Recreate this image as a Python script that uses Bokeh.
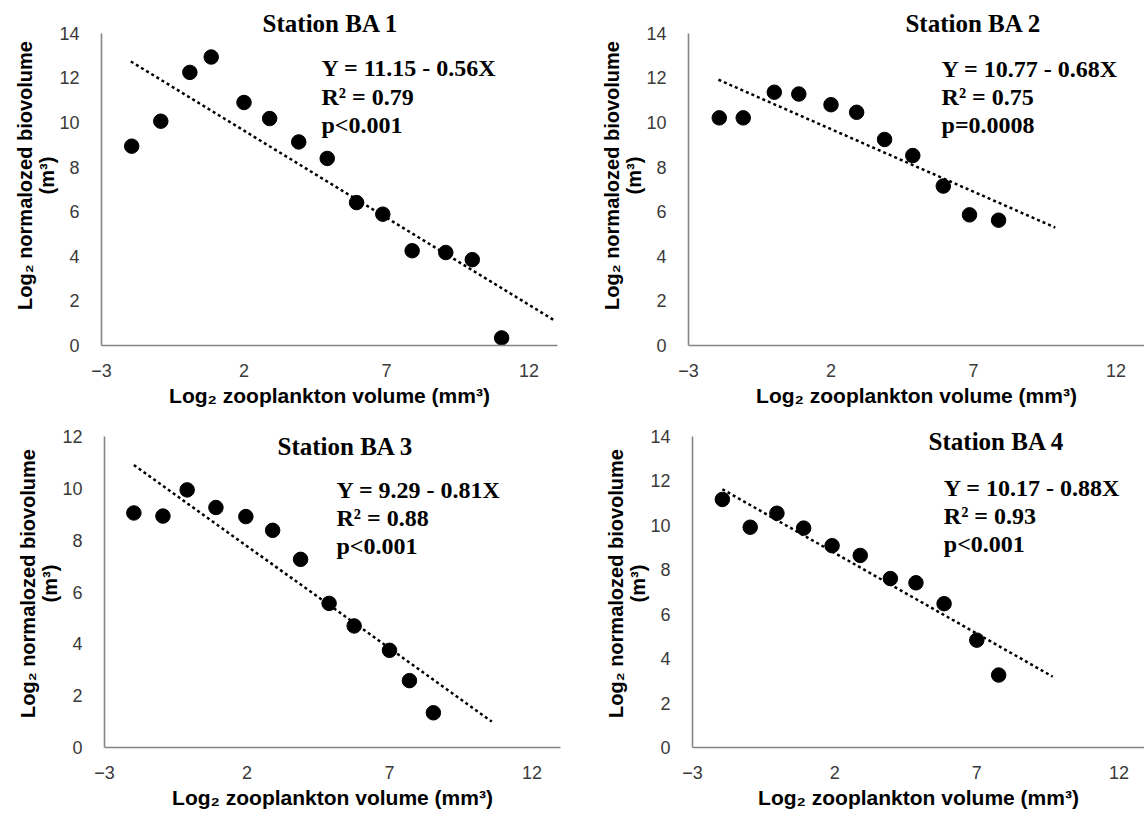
from bokeh.plotting import figure
from bokeh.layouts import column, row
from bokeh.models import Range1d, FixedTicker, Label
from bokeh.embed import file_html
from bokeh.resources import INLINE

# ---------------- data ----------------
x_ticks = [-3, 2, 7, 12]

ba1_x = [-1.94, -0.92, 0.1, 0.85, 2.0, 2.9, 3.92, 4.92, 5.95, 6.87, 7.9, 9.08, 10.01, 11.04]
ba1_y = [8.94, 10.06, 12.25, 12.94, 10.9, 10.18, 9.13, 8.39, 6.41, 5.89, 4.25, 4.17, 3.85, 0.34]
ba1_trend_x = [-1.97, 12.9]
ba1_trend_y = [12.74, 1.12]

ba2_x = [-1.92, -1.08, 0.01, 0.87, 2.0, 2.9, 3.88, 4.87, 5.94, 6.86, 7.88]
ba2_y = [10.21, 10.21, 11.36, 11.28, 10.8, 10.46, 9.24, 8.52, 7.15, 5.86, 5.62]
ba2_trend_x = [-1.95, 9.87]
ba2_trend_y = [11.92, 5.29]

ba3_x = [-1.97, -0.95, -0.1, 0.91, 1.96, 2.9, 3.88, 4.88, 5.76, 7.0, 7.7, 8.54]
ba3_y = [9.05, 8.93, 9.94, 9.26, 8.91, 8.38, 7.26, 5.56, 4.69, 3.75, 2.58, 1.34]
ba3_trend_x = [-1.97, 10.59]
ba3_trend_y = [10.9, 1.0]

ba4_x = [-1.95, -0.97, -0.03, 0.91, 1.91, 2.9, 3.96, 4.86, 5.85, 7.0, 7.77]
ba4_y = [11.16, 9.91, 10.54, 9.87, 9.08, 8.64, 7.6, 7.41, 6.47, 4.83, 3.26]
ba4_trend_x = [-1.95, 9.67]
ba4_trend_y = [11.62, 3.19]

titles = ["Station BA 1", "Station BA 2", "Station BA 3", "Station BA 4"]
equations = [
    ["Y = 11.15 - 0.56X", "R\u00b2 = 0.79", "p<0.001"],
    ["Y = 10.77 - 0.68X", "R\u00b2 = 0.75", "p=0.0008"],
    ["Y = 9.29 - 0.81X", "R\u00b2 = 0.88", "p<0.001"],
    ["Y = 10.17 - 0.88X", "R\u00b2 = 0.93", "p<0.001"],
]
y_maxes = [14, 14, 12, 14]

x_title = "Log\u2082 zooplankton volume (mm\u00b3)"
y_title = "Log\u2082 normalozed biovolume\n(m\u00b3)"

SANS = "Liberation Sans"
SERIF = "Liberation Serif"
TICK_COLOR = "#3a3a3a"
AXIS_COLOR = "#858585"


def make_panel(xs, ys, tx, ty, title, eq, ymax, x_end, y_end, borders, title_pos, eq_pos):
    left, right, top, bottom = borders
    p = figure(width=572, height=409, output_backend="svg", toolbar_location=None,
               x_range=Range1d(-3, x_end), y_range=Range1d(0, y_end),
               min_border_left=left, min_border_right=right,
               min_border_top=top, min_border_bottom=bottom,
               background_fill_color="white", border_fill_color="white")
    p.outline_line_color = None
    p.xgrid.grid_line_color = None
    p.ygrid.grid_line_color = None

    p.xaxis.ticker = FixedTicker(ticks=x_ticks)
    p.yaxis.ticker = FixedTicker(ticks=list(range(0, ymax + 1, 2)))
    p.yaxis.bounds = (0, ymax)
    for ax in (p.xaxis, p.yaxis):
        ax.axis_line_color = AXIS_COLOR
        ax.axis_line_width = 1.6
        ax.major_tick_line_color = None
        ax.minor_tick_line_color = None
        ax.major_label_text_font = SANS
        ax.major_label_text_font_size = "18px"
        ax.major_label_text_color = TICK_COLOR
        ax.axis_label_text_font = SANS
        ax.axis_label_text_font_style = "bold"
        ax.axis_label_text_color = "black"
    p.xaxis.axis_label_text_font_size = "21px"
    p.yaxis.axis_label_text_font_size = "20px"
    p.yaxis.axis_label_text_line_height = 1.0
    p.xaxis.major_label_standoff = 12
    p.yaxis.major_label_standoff = 16
    p.xaxis.axis_label = x_title
    p.yaxis.axis_label = y_title
    p.xaxis.axis_label_standoff = 4
    p.yaxis.axis_label_standoff = -2

    p.line(tx, ty, line_color="black", line_width=2.5, line_dash="3 3")
    p.scatter(xs, ys, size=14.5, fill_color="black", line_color="black")

    p.add_layout(Label(x=title_pos[0], y=title_pos[1], text=title,
                       text_font=SERIF, text_font_style="bold", text_font_size="25px",
                       text_align="center", text_baseline="middle", text_color="black"))
    ex, ey, dy = eq_pos
    for i, line in enumerate(eq):
        p.add_layout(Label(x=ex, y=ey - i * dy, text=line,
                           text_font=SERIF, text_font_style="bold", text_font_size="24px",
                           text_align="left", text_baseline="middle", text_color="black"))
    return p


p1 = make_panel(ba1_x, ba1_y, ba1_trend_x, ba1_trend_y, titles[0], equations[0], y_maxes[0],
                13, 15.25, (101, 15, 5, 63), (5.04, 14.45), (4.72, 12.43, 1.275))
p2 = make_panel(ba2_x, ba2_y, ba2_trend_x, ba2_trend_y, titles[1], equations[1], y_maxes[1],
                13, 15.25, (116, 0, 5, 63), (7.0, 14.45), (5.88, 12.42, 1.275))
p3 = make_panel(ba3_x, ba3_y, ba3_trend_x, ba3_trend_y, titles[2], equations[2], y_maxes[2],
                13, 12.656, (104, 12, 10, 71), (5.46, 11.61), (5.14, 9.92, 1.08))
p4 = make_panel(ba4_x, ba4_y, ba4_trend_x, ba4_trend_y, titles[3], equations[3], y_maxes[3],
                12.9, 14.757, (120, 0, 10, 68), (7.7, 13.78), (5.84, 11.68, 1.27))

layout = column(row(p1, p2), row(p3, p4))

open("out.html", "w").write(file_html(layout, INLINE))
